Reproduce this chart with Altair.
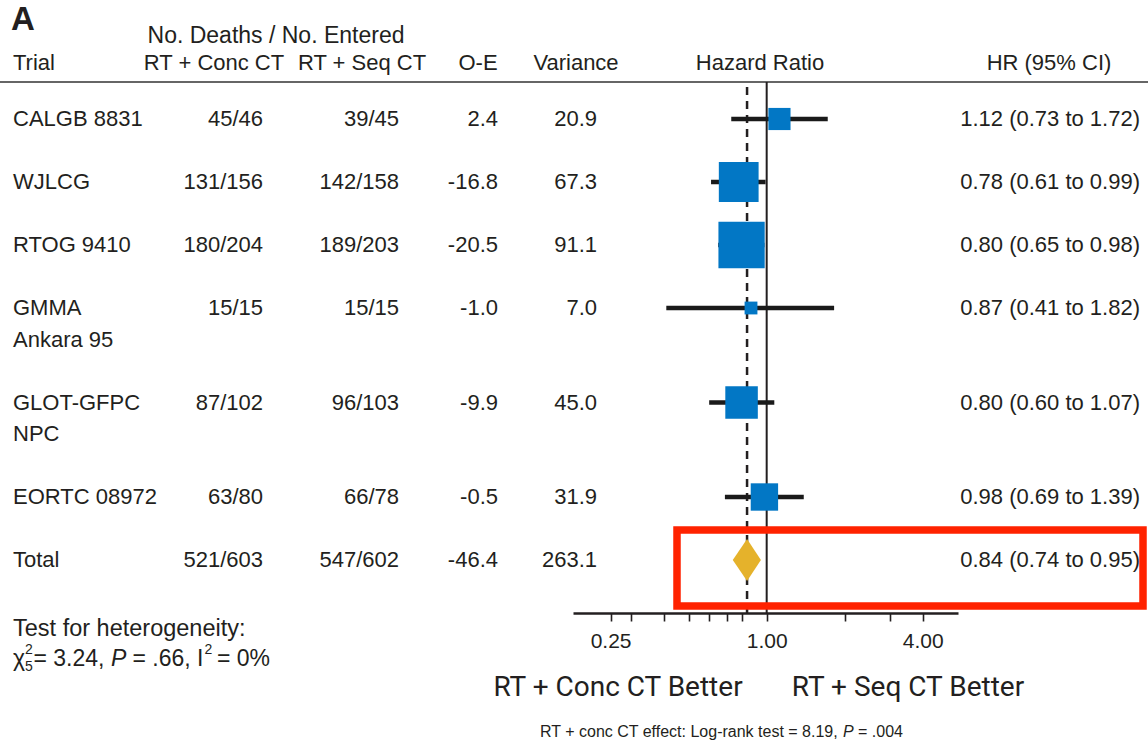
import altair as alt
import pandas as pd

# ---- trial data -------------------------------------------------------------
trial_lines = [
    ["CALGB 8831"],
    ["WJLCG"],
    ["RTOG 9410"],
    ["GMMA", "Ankara 95"],
    ["GLOT-GFPC", "NPC"],
    ["EORTC 08972"],
]
conc_deaths = ["45/46", "131/156", "180/204", "15/15", "87/102", "63/80"]
seq_deaths = ["39/45", "142/158", "189/203", "15/15", "96/103", "66/78"]
o_minus_e = [2.4, -16.8, -20.5, -1.0, -9.9, -0.5]
variance = [20.9, 67.3, 91.1, 7.0, 45.0, 31.9]
hr = [1.12, 0.78, 0.80, 0.87, 0.80, 0.98]
hr_lo = [0.73, 0.61, 0.65, 0.41, 0.60, 0.69]
hr_hi = [1.72, 0.99, 0.98, 1.82, 1.07, 1.39]

# pooled result
total_lines = ["Total"]
total_conc = "521/603"
total_seq = "547/602"
total_oe = -46.4
total_var = 263.1
total_hr = 0.84
total_lo = 0.74
total_hi = 0.95

axis_ticks = [0.25, 0.3, 0.4, 0.5, 0.6, 0.7, 0.8, 1.0, 2.0, 3.0, 4.0]
axis_labelled = [0.25, 1.0, 4.0]

# ---- styling ------------------------------------------------------------------
FONT = "Liberation Sans"
COND = "Liberation Sans Narrow, Roboto, Liberation Sans"
INK = "#231f20"
BLUE = "#0277c5"
GOLD = "#e5b22b"
RED = "#ff2200"
FS = 22

# ---- table layout -------------------------------------------------------------
all_lines = trial_lines + [total_lines]
slots = []
s = 0.0
for lines in all_lines:
    slots.append(s)
    s += 1 + 0.5 * (len(lines) - 1)

name_rows = []
for lines, sl in zip(all_lines, slots):
    for k, ln in enumerate(lines):
        name_rows.append({"slot": sl + 0.5 * k, "text": ln})
names_df = pd.DataFrame(name_rows)

fmt_ci = "{:.2f} ({:.2f} to {:.2f})"
table_df = pd.DataFrame({
    "slot": slots,
    "conc": conc_deaths + [total_conc],
    "seq": seq_deaths + [total_seq],
    "oe": [f"{v:.1f}" for v in o_minus_e + [total_oe]],
    "var": [f"{v:.1f}" for v in variance + [total_var]],
    "ci": [fmt_ci.format(a, b, c) for a, b, c in
           zip(hr + [total_hr], hr_lo + [total_lo], hr_hi + [total_hi])],
})

forest_df = pd.DataFrame({
    "slot": slots[:-1], "hr": hr, "lo": hr_lo, "hi": hr_hi, "variance": variance,
})

tslot = slots[-1]
half = 0.333
diamond_df = pd.DataFrame({
    "x": [total_lo, total_hr, total_hi],
    "top": [tslot, tslot - half, tslot],
    "bottom": [tslot, tslot + half, tslot],
})

xscale = alt.Scale(type="log", base=2, domain=[0.179, 5.47], range=[573, 958])
yscale = alt.Scale(domain=[0, 7], range=[119, 560])
label_test = " || ".join(f"datum.value == {v}" for v in axis_labelled)
xaxis = alt.Axis(
    values=axis_ticks, labelExpr=f"({label_test}) ? format(datum.value, '.2f') : ''",
    title=None, grid=False, domainColor=INK, domainWidth=2.6, tickColor=INK,
    tickWidth=1.6, tickSize=8, labelPadding=9, labelFont=FONT, labelFontSize=21,
    labelColor=INK, labelOverlap=False, labelFlush=False,
)
Y = alt.Y("slot:Q", scale=yscale, axis=None)


def col_text(field, xpos, align):
    return alt.Chart(table_df).mark_text(
        align=align, baseline="middle", font=FONT, fontSize=FS, color=INK
    ).encode(x=alt.value(xpos), y=Y, text=f"{field}:N")


names = alt.Chart(names_df).mark_text(
    align="left", baseline="middle", font=FONT, fontSize=FS, color=INK
).encode(x=alt.value(13), y=Y, text="text:N")

# ---- forest plot ---------------------------------------------------------------
ci = alt.Chart(forest_df).mark_rule(color="#1a1a1a", strokeWidth=4.5).encode(
    x=alt.X("lo:Q", scale=xscale, axis=xaxis), x2="hi:Q", y=Y
)
boxes = alt.Chart(forest_df).mark_square(color=BLUE, opacity=1).encode(
    x=alt.X("hr:Q", scale=xscale, axis=xaxis), y=Y,
    size=alt.Size("variance:Q", scale=alt.Scale(domain=[0, 100], range=[0, 2350]), legend=None),
)
diamond = alt.Chart(diamond_df).mark_area(color=GOLD, opacity=1).encode(
    x=alt.X("x:Q", scale=xscale, axis=xaxis),
    y=alt.Y("top:Q", scale=yscale, axis=None), y2="bottom:Q",
)
null_line = alt.Chart(pd.DataFrame({"v": [1.0]})).mark_rule(color=INK, strokeWidth=2).encode(
    x=alt.X("v:Q", scale=xscale, axis=xaxis), y=alt.value(82), y2=alt.value(613)
)
pooled_line = alt.Chart(pd.DataFrame({"v": [total_hr]})).mark_rule(
    color=INK, strokeWidth=2.5, strokeDash=[8, 6], strokeDashOffset=9
).encode(x=alt.X("v:Q", scale=xscale, axis=xaxis), y=alt.value(82), y2=alt.value(613))

# ---- headers and notes ------------------------------------------------------------
def label(text, x, y, align="left", size=FS, font=FONT, weight="normal", style="normal",
          baseline="middle"):
    return alt.Chart(pd.DataFrame({"t": [text]})).mark_text(
        align=align, baseline=baseline, font=font, fontSize=size, color=INK,
        fontWeight=weight, fontStyle=style,
    ).encode(x=alt.value(x), y=alt.value(y), text="t:N")


header_rule = alt.Chart(pd.DataFrame({"a": [0]})).mark_rule(color="#333333", strokeWidth=1.6).encode(
    x=alt.value(0), x2=alt.value(1148), y=alt.value(82)
)

headers = [
    label("A", 11, 30, size=33, weight="bold", baseline="alphabetic"),
    label("No. Deaths / No. Entered", 276, 36, align="center", size=23),
    label("Trial", 13, 63),
    label("RT + Conc CT", 214, 63, align="center"),
    label("RT + Seq CT", 362, 63, align="center"),
    label("O-E", 478, 63, align="center"),
    label("Variance", 576, 63, align="center"),
    label("Hazard Ratio", 760, 63, align="center"),
    label("HR (95% CI)", 1049, 63, align="center"),
]

NS = 23
notes = [
    label("Test for heterogeneity:", 13, 629, size=23.5),
    label("\u03c7", 13, 659, size=NS),
    label("2", 25, 650, size=14),
    label("5", 25, 667, size=14),
    label("= 3.24,", 33.5, 659, size=NS),
    label("P", 111, 659, size=NS, style="italic"),
    label("= .66, I", 132.5, 659, size=NS),
    label("2", 204.5, 650, size=14),
    label("= 0%", 217, 659, size=NS),
    label("RT + Conc CT Better", 618, 688, align="center", size=28, font=COND),
    label("RT + Seq CT Better", 908, 688, align="center", size=28, font=COND),
    label("RT + conc CT effect: Log-rank test = 8.19,", 540, 732, size=16),
    label("P", 843, 732, size=16, style="italic"),
    label("= .004", 858, 732, size=16),
]

highlight = alt.Chart(pd.DataFrame({"a": [0]})).mark_rect(
    fillOpacity=0, stroke=RED, strokeWidth=7.5
).encode(x=alt.value(677), x2=alt.value(1143), y=alt.value(530), y2=alt.value(606))

chart = alt.layer(
    header_rule, null_line, pooled_line, ci, boxes, diamond,
    names,
    col_text("conc", 263, "right"),
    col_text("seq", 399, "right"),
    col_text("oe", 498, "right"),
    col_text("var", 597, "right"),
    col_text("ci", 1140, "right"),
    *headers, *notes, highlight,
).properties(
    width=1148, height=613,
    padding={"left": 0, "right": 0, "top": 0, "bottom": 132},
    autosize=alt.AutoSizeParams(type="none"),
    background="white",
).configure_view(stroke=None)

chart.save("out.html", embed_options={"renderer": "svg", "actions": False})
